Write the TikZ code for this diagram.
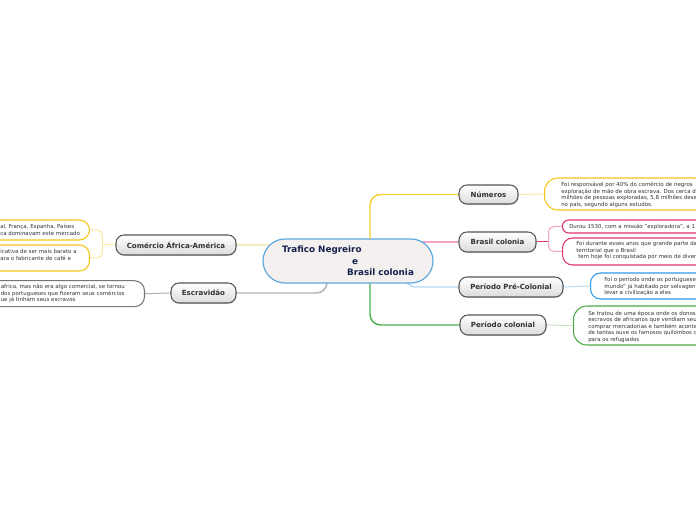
\documentclass[tikz,border=0pt]{standalone}
\usepackage{fontspec}
\setmainfont{DejaVu Sans}
\usetikzlibrary{shadows,backgrounds,calc}
\definecolor{ctext}{HTML}{14214D}
\definecolor{cfill}{HTML}{F4F0EF}
\definecolor{cborder}{HTML}{5DA9DD}
\definecolor{ntext}{HTML}{333333}
\definecolor{nborder}{HTML}{555555}
\definecolor{ltext}{HTML}{333333}
\definecolor{yel}{HTML}{F5D030}
\definecolor{yelpale}{HTML}{FBE8A0}
\definecolor{yelborder}{HTML}{F5C518}
\definecolor{comline}{HTML}{F5EBC0}
\definecolor{pinkpale}{HTML}{F4A3C4}
\definecolor{pinkdark}{HTML}{E0336E}
\definecolor{bluepale}{HTML}{B5DAF5}
\definecolor{blueborder}{HTML}{2F9BE6}
\definecolor{greendark}{HTML}{4CAF50}
\definecolor{greenpale}{HTML}{C5E5BE}
\definecolor{greenborder}{HTML}{4DAA45}
\definecolor{grayline}{HTML}{B0B0B0}
\definecolor{grayborder}{HTML}{777777}
\tikzset{
  topic/.style={draw=nborder, line width=0.8pt, rounded corners=6pt,
    top color=white, bottom color=black!14, text=ntext,
    font=\fontsize{5.3pt}{6pt}\selectfont\bfseries, inner sep=0pt,
    drop shadow={shadow xshift=0.4pt, shadow yshift=-0.8pt, opacity=0.25}},
  leaf/.style={fill=white, line width=0.8pt, rounded corners=7.5pt, inner sep=0pt},
  ltxt/.style={anchor=north west, inner sep=0pt, align=left, text=ltext,
    font=\fontsize{4.1pt}{4.9pt}\selectfont},
  branch/.style={line width=1.1pt, rounded corners=8pt},
  twig/.style={line width=0.75pt, rounded corners=4pt},
}
\begin{document}
\begin{tikzpicture}[x=0.75pt,y=-0.75pt]
\useasboundingbox (0,0) rectangle (696,520);
\clip (0,0) rectangle (696,520);
% central
\node[draw=cborder, fill=cfill, line width=0.9pt, rounded corners=16.5pt,
  minimum width=127.5pt, minimum height=33pt, inner sep=0pt, align=left,
  text=ctext, font=\fontsize{6.6pt}{8.6pt}\selectfont\bfseries] (c) at (348,261)
  {Trafico Negreiro\\\hspace*{52.5pt}e\\\hspace*{48.75pt}Brasil colonia};
% topics
\node[topic, minimum width=90pt, minimum height=15pt] (ca) at (176,245) {Comércio África-América};
\node[topic, minimum width=48.75pt, minimum height=15pt] (es) at (203.5,293) {Escravidão};
\node[topic, minimum width=44.25pt, minimum height=14.25pt] (nu) at (488.5,194.5) {Números};
\node[topic, minimum width=57.75pt, minimum height=15pt] (bc) at (497.5,242) {Brasil colonia};
\node[topic, minimum width=78pt, minimum height=15pt] (pp) at (511,287) {Período Pré-Colonial};
\node[topic, minimum width=64.5pt, minimum height=15pt] (pc) at (503,325) {Período colonial};
% leaves right
\node[leaf, draw=yelborder, rounded corners=10pt, minimum width=165pt, minimum height=24pt, anchor=west] (lnu) at (544,194) {};
\node[leaf, draw=pinkdark, rounded corners=4.5pt, minimum width=150pt, minimum height=9.75pt, anchor=west] (lbc1) at (562,226.5) {};
\node[leaf, draw=pinkdark, minimum width=150pt, minimum height=20.25pt, anchor=west] (lbc2) at (562,251.5) {};
\node[leaf, draw=blueborder, minimum width=150pt, minimum height=19.5pt, anchor=west] (lpp) at (590,286) {};
\node[leaf, draw=greenborder, rounded corners=10pt, minimum width=150pt, minimum height=29.25pt, anchor=west] (lpc) at (573,325.5) {};
% leaves left
\node[leaf, draw=yelborder, minimum width=150pt, minimum height=15pt, anchor=east] (lca1) at (90,230) {};
\node[leaf, draw=yelborder, minimum width=150pt, minimum height=19.5pt, anchor=east] (lca2) at (90,258) {};
\node[leaf, draw=grayborder, minimum width=180pt, minimum height=19.5pt, anchor=east] (les) at (145,293.7) {};
% leaf texts
\node[ltxt] (tnu) at (561,182) {Foi responsável por 40\% do comércio de negros\\exploração de mão de obra escrava. Dos cerca d\\milhões de pessoas exploradas, 5,8 milhões dese\\no país, segundo alguns estudos.};
\node[ltxt] (tbc1) at (569,224.2) {Durou 1530, com a missão "exploradora", a 1};
\node[ltxt] (tbc2) at (576,241.5) {Foi durante esses anos que grande parte da\\territorial que o Brasil\\\hspace*{1.5pt}tem hoje foi conquistada por meio de diver};
\node[ltxt] (tpp) at (604,277) {Foi o período onde os portuguese\\mundo" já habitado por selvagen\\levar a civilização a eles};
\node[ltxt] (tpc) at (588,310.5) {Se tratou de uma época onde os donos\\escravos de africanos que vendiam seu\\comprar mercadorias e também aconte\\de tantas ouve os famosos quilombos c\\para os refugiados};
\node[ltxt] (tca1) at (0,224.2) {al, França, Espanha, Países\\ca dominavam este mercado};
\node[ltxt] (tca2) at (0,249.5) {icativa de ser mais barato a\\ara o fabricante de café e};
\node[ltxt] (tes) at (0.5,284.3) {africa, mas não era algo comercial, se tornou\\dos portugueses que fizeram seus comércios\\ue já tinham seus escravos};
% connectors
\begin{scope}[on background layer]
\draw[branch, yel] ([xshift=16.5pt]c.center) |- (nu.west);
\draw[branch, pinkpale] (c.center |- bc.west) -- (bc.west);
\draw[branch, bluepale] ([xshift=42.75pt]c.center) |- (pp.west);
\draw[branch, greendark] ([xshift=16.5pt]c.center) |- (pc.west);
\draw[branch, grayline] ([xshift=-15.75pt]c.center) |- (es.east);
\draw[branch, comline] (c.center |- ca.east) -- (ca.east);
\draw[twig, yelpale] (nu.east) -- (lnu.west);
\coordinate (bcf) at ([xshift=9pt]bc.east);
\draw[twig, pinkdark] (bc.east) -- (bcf);
\draw[twig, pinkpale] (bcf) |- (lbc1.west);
\draw[twig, pinkpale] (bcf) |- (lbc2.west);
\draw[twig, bluepale] (pp.east) -- (lpp.west);
\draw[twig, greenpale] (pc.east) -- (lpc.west);
\coordinate (caf) at ([xshift=-9.75pt]ca.west);
\draw[twig, yelpale] (ca.west) -- (caf);
\draw[twig, yelpale] (caf) |- (lca1.east);
\draw[twig, yelpale] (caf) |- (lca2.east);
\draw[twig, grayline] (es.west) -- (les.east);
\end{scope}
\end{tikzpicture}
\end{document}
